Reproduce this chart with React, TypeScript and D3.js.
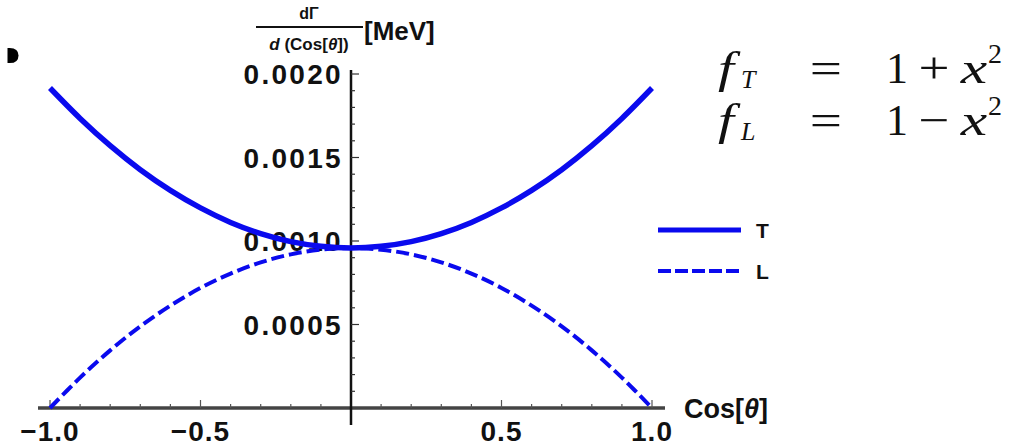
import React from "react";
import * as d3 from "d3";

const xValues = [-1.0, -0.9, -0.8, -0.7, -0.6, -0.5, -0.4, -0.3, -0.2, -0.1, 0.0, 0.1, 0.2, 0.3, 0.4, 0.5, 0.6, 0.7, 0.8, 0.9, 1.0];
const tValues = [0.001916, 0.001734, 0.001571, 0.001427, 0.001303, 0.001198, 0.001111, 0.001044, 0.000996, 0.000968, 0.000958, 0.000968, 0.000996, 0.001044, 0.001111, 0.001198, 0.001303, 0.001427, 0.001571, 0.001734, 0.001916];
const lValues = [0.0, 0.000182, 0.000345, 0.000489, 0.000613, 0.000719, 0.000805, 0.000872, 0.00092, 0.000948, 0.000958, 0.000948, 0.00092, 0.000872, 0.000805, 0.000719, 0.000613, 0.000489, 0.000345, 0.000182, 0.0];
const xTickLabels = ["−1.0", "−0.5", "0.5", "1.0"];
const xTickValues = [-1, -0.5, 0.5, 1];
const yTickLabels = ["0.0005", "0.0010", "0.0015", "0.0020"];
const yTickValues = [0.0005, 0.001, 0.0015, 0.002];
const seriesNames = ["T", "L"];

function sx(cx: number, s: number) {
  return `translate(${cx} 0) scale(${s} 1) translate(${-cx} 0)`;
}

export default function App() {
  const x = d3.scaleLinear().domain([-1, 1]).range([50, 652]);
  const y = d3.scaleLinear().domain([0, 0.002]).range([408, 74]);
  const line = d3
    .line<number>()
    .x((_, i) => x(xValues[i]))
    .y((d) => y(d))
    .curve(d3.curveCatmullRom.alpha(0.5));
  const blue = "#0a0aee";
  const x0 = x(0);
  const y0 = y(0);
  const minorX = d3.range(-10, 11).map((i) => i / 10).filter((v) => Math.abs(v) > 1e-9);
  const minorY = d3.range(1, 21).map((i) => i * 0.0001);
  const tickFont = "'Liberation Sans', Arial, sans-serif";
  const serif = "'Liberation Serif', 'DejaVu Serif', serif";

  return (
    <svg
      width={1010}
      height={448}
      style={{ position: "absolute", left: 0, top: 0, background: "#fff" }}
    >
      {/* bullet */}
      <path d="M 7.5 48 Q 18.5 47 18.5 55.5 Q 18.5 64 7.5 63 Z" fill="#000" />

      {/* axes */}
      <line x1={38} x2={665} y1={y0} y2={y0} stroke="#444" strokeWidth={3.5} />
      <line x1={x0} x2={x0} y1={70} y2={425} stroke="#111" strokeWidth={2.5} />

      {/* x ticks */}
      {minorX.map((v) => {
        const major = Math.abs(Math.abs(v) - 0.5) < 1e-9 || Math.abs(Math.abs(v) - 1) < 1e-9;
        return (
          <line key={"mx" + v} x1={x(v)} x2={x(v)} y1={y0} y2={y0 - (major ? 8 : 4)} stroke="#555" strokeWidth={1.2} />
        );
      })}
      {xTickValues.map((v, i) => (
        <text
          key={"xl" + v}
          x={x(v)}
          y={441}
          textAnchor="middle"
          fontFamily={tickFont}
          fontWeight="bold"
          fontSize={28}
          letterSpacing={1}
          fill="#111"
        >
          {xTickLabels[i]}
        </text>
      ))}

      {/* y ticks */}
      {minorY.map((v) => {
        const major = Math.abs((v / 0.0005) - Math.round(v / 0.0005)) < 1e-6;
        return (
          <line key={"my" + v} x1={x0} x2={x0 + (major ? 8 : 4)} y1={y(v)} y2={y(v)} stroke="#333" strokeWidth={1.2} />
        );
      })}
      {yTickValues.map((v, i) => (
        <text
          key={"yl" + v}
          x={343}
          y={y(v) + 10}
          textAnchor="end"
          fontFamily={tickFont}
          fontWeight="bold"
          fontSize={28}
          letterSpacing={2.3}
          fill="#111"
        >
          {yTickLabels[i]}
        </text>
      ))}

      {/* series */}
      <path d={line(lValues) || ""} fill="none" stroke={blue} strokeWidth={4} strokeDasharray="13 5" />
      <path d={line(tValues) || ""} fill="none" stroke={blue} strokeWidth={5.5} />

      {/* axis labels */}
      <text x={684} y={418} fontFamily={tickFont} fontSize={27} fill="#111" fontWeight="bold">
        Cos[<tspan fontStyle="italic">θ</tspan>]
      </text>
      <text x={309} y={19} textAnchor="middle" fontFamily={tickFont} fontSize={16} fontWeight="bold" fill="#111">
        dΓ
      </text>
      <line x1={256} x2={363} y1={27} y2={27} stroke="#111" strokeWidth={2} />
      <text x={309} y={50} textAnchor="middle" fontFamily={tickFont} fontSize={17} fontWeight="bold" fill="#111">
        <tspan fontStyle="italic">d</tspan> (Cos[<tspan fontStyle="italic">θ</tspan>])
      </text>
      <text x={364} y={40} fontFamily={tickFont} fontSize={26} fontWeight="bold" fill="#111">
        [MeV]
      </text>

      {/* legend */}
      <line x1={658} x2={741} y1={230} y2={230} stroke={blue} strokeWidth={5} />
      <text x={756} y={238} fontFamily={tickFont} fontSize={21} fontWeight="bold" fill="#111">
        {seriesNames[0]}
      </text>
      <line x1={658} x2={741} y1={271} y2={271} stroke={blue} strokeWidth={4} strokeDasharray="13 4" />
      <text x={756} y={279} fontFamily={tickFont} fontSize={21} fontWeight="bold" fill="#111">
        {seriesNames[1]}
      </text>

      {/* formula */}
      <g fontFamily={serif} fill="#111">
        <text x={726} y={83} fontSize={44} fontStyle="italic" textAnchor="middle" transform={sx(726, 1.3)}>f</text>
        <text x={741} y={88} fontSize={26} fontStyle="italic">T</text>
        <text x={826} y={83} fontSize={44} textAnchor="middle" transform={sx(826, 1.3)}>=</text>
        <text x={897} y={83} fontSize={44} textAnchor="middle">1</text>
        <text x={934} y={83} fontSize={44} textAnchor="middle" transform={sx(934, 1.25)}>+</text>
        <text x={974} y={83} fontSize={44} textAnchor="middle" fontStyle="italic" transform={sx(974, 1.35)}>x</text>
        <text x={995} y={63} fontSize={28} textAnchor="middle">2</text>

        <text x={726} y={135} fontSize={44} fontStyle="italic" textAnchor="middle" transform={sx(726, 1.3)}>f</text>
        <text x={741} y={140} fontSize={26} fontStyle="italic">L</text>
        <text x={826} y={135} fontSize={44} textAnchor="middle" transform={sx(826, 1.3)}>=</text>
        <text x={897} y={135} fontSize={44} textAnchor="middle">1</text>
        <text x={934} y={135} fontSize={44} textAnchor="middle" transform={sx(934, 1.25)}>−</text>
        <text x={974} y={135} fontSize={44} textAnchor="middle" fontStyle="italic" transform={sx(974, 1.35)}>x</text>
        <text x={995} y={115} fontSize={28} textAnchor="middle">2</text>
      </g>
    </svg>
  );
}
